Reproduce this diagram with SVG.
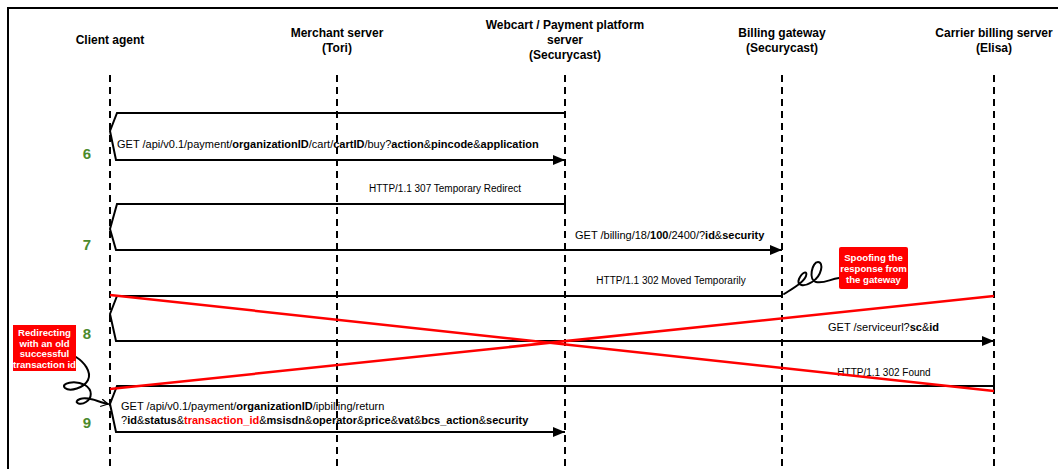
<svg xmlns="http://www.w3.org/2000/svg" width="1058" height="469" viewBox="0 0 1058 469">
  <style>
    .hdr { font-family: "Liberation Sans", Arial, sans-serif; font-size: 12px; font-weight: bold; fill: #000; text-anchor: middle; }
    .msg { font-family: "Liberation Sans", Arial, sans-serif; font-size: 11px; fill: #000; }
    .rsp { font-family: "Liberation Sans", Arial, sans-serif; font-size: 10px; fill: #000; text-anchor: middle; }
    .b { font-weight: bold; }
    .red { fill: #ff0000; }
    .step { font-family: "Liberation Sans", Arial, sans-serif; font-size: 15px; font-weight: bold; fill: #4b8a2c; text-anchor: middle; }
    .life { stroke: #000; stroke-width: 2; stroke-dasharray: 7 5; fill: none; }
    .line { stroke: #000; stroke-width: 2; fill: none; }
    .cross { stroke: #ff0000; stroke-width: 2.5; fill: none; }
    .note { fill: #ff0000; }
    .notetxt { font-family: "Liberation Sans", Arial, sans-serif; font-size: 9.6px; font-weight: bold; fill: #fff; text-anchor: middle; }
    .curl { stroke: #000; stroke-width: 2; fill: none; stroke-linecap: round; }
  </style>
  <defs>
    <marker id="arrow" viewBox="0 0 12 10" refX="12" refY="5" markerWidth="13" markerHeight="10" markerUnits="userSpaceOnUse" orient="auto">
      <path d="M0,0 L12,5 L0,10 Z" fill="#000"/>
    </marker>
    <marker id="arrowSmall" viewBox="0 0 10 10" refX="9" refY="5" markerWidth="8" markerHeight="8" markerUnits="userSpaceOnUse" orient="auto">
      <path d="M0,0 L9,5 L0,10" fill="none" stroke="#000" stroke-width="1.6"/>
    </marker>
  </defs>

  <rect x="8" y="8" width="1060" height="470" fill="#fff" stroke="#000" stroke-width="2"/>

  <!-- participants -->
  <g id="client-agent">
    <text class="hdr" x="110" y="44">Client agent</text>
  </g>
  <g id="merchant-server">
    <text class="hdr" x="337" y="37">Merchant server</text>
    <text class="hdr" x="337" y="52">(Tori)</text>
  </g>
  <g id="webcart-server">
    <text class="hdr" x="565" y="29">Webcart / Payment platform</text>
    <text class="hdr" x="565" y="44">server</text>
    <text class="hdr" x="565" y="59">(Securycast)</text>
  </g>
  <g id="billing-gateway">
    <text class="hdr" x="782" y="37">Billing gateway</text>
    <text class="hdr" x="782" y="52">(Securycast)</text>
  </g>
  <g id="carrier-billing">
    <text class="hdr" x="994" y="37">Carrier billing server</text>
    <text class="hdr" x="994" y="52">(Elisa)</text>
  </g>

  <!-- lifelines -->
  <g id="lifelines">
    <line class="life" x1="110" y1="75" x2="110" y2="466"/>
    <line class="life" x1="337" y1="75" x2="337" y2="466"/>
    <line class="life" x1="565" y1="75" x2="565" y2="466"/>
    <line class="life" x1="782" y1="75" x2="782" y2="466"/>
    <line class="life" x1="994" y1="75" x2="994" y2="466"/>
  </g>

  <!-- step numbers -->
  <g id="steps">
    <text class="step" x="87" y="159">6</text>
    <text class="step" x="87" y="250">7</text>
    <text class="step" x="87" y="339">8</text>
    <text class="step" x="87" y="428">9</text>
  </g>

  <!-- messages -->
  <g id="connectors">
    <!-- 6 -->
    <path class="line" d="M565,113 H117 L110,131 L116,160 H565" marker-end="url(#arrow)"/>
    <text class="msg" x="117" y="148">GET /api/v0.1/payment/<tspan class="b">organizationID</tspan>/cart/<tspan class="b">cartID</tspan>/buy?<tspan class="b">action</tspan>&amp;<tspan class="b">pincode</tspan>&amp;<tspan class="b">application</tspan></text>

    <!-- 7 -->
    <text class="rsp" x="445" y="192">HTTP/1.1 307 Temporary Redirect</text>
    <path class="line" d="M565,204 H117 L110,229 L116,250 H782" marker-end="url(#arrow)"/>
    <line class="line" x1="565" y1="199" x2="565" y2="209"/>
    <text class="msg" x="575" y="239">GET /billing/18/<tspan class="b">100</tspan>/2400/?<tspan class="b">id</tspan>&amp;<tspan class="b">security</tspan></text>

    <!-- 8 -->
    <text class="rsp" x="671" y="284">HTTP/1.1 302 Moved Temporarily</text>
    <path class="line" d="M782,296 H117 L110,314 L116,341 H994" marker-end="url(#arrow)"/>
    <text class="msg" x="828" y="331">GET /serviceurl?<tspan class="b">sc</tspan>&amp;<tspan class="b">id</tspan></text>

    <!-- 9 -->
    <text class="rsp" x="884" y="376">HTTP/1.1 302 Found</text>
    <path class="line" d="M994,386 H117 L110,404 L116,432 H565" marker-end="url(#arrow)"/>
    <line class="line" x1="994" y1="381" x2="994" y2="391"/>
    <text class="msg" x="121" y="410">GET /api/v0.1/payment/<tspan class="b">organizationID</tspan>/ipbilling/return</text>
    <text class="msg" x="121" y="424">?<tspan class="b">id</tspan>&amp;<tspan class="b">status</tspan>&amp;<tspan class="b red">transaction_id</tspan>&amp;<tspan class="b">msisdn</tspan>&amp;<tspan class="b">operator</tspan>&amp;<tspan class="b">price</tspan>&amp;<tspan class="b">vat</tspan>&amp;<tspan class="b">bcs_action</tspan>&amp;<tspan class="b">security</tspan></text>

    <!-- crossed-out exchange -->
    <line class="cross" x1="110" y1="295" x2="994" y2="391"/>
    <line class="cross" x1="110" y1="389" x2="994" y2="296"/>

    <!-- annotation curls -->
    <path class="curl" d="M839,278 C830,279 824,284 816,282 C808,280 812,262 818,262 C824,262 822,276 812,282 C804,287 796,286 799,279 C802,272 808,270 806,276 C804,283 790,290 784,294"/>
    <path class="curl" d="M76,357 C84,362 92,372 88,380 C84,388 70,392 65,388 C60,383 75,380 85,385 C93,390 92,398 86,402 C80,406 72,402 80,399 C88,396 98,402 108,404" marker-end="url(#arrowSmall)"/>
  </g>

  <!-- callouts -->
  <g id="note-spoofing">
    <rect class="note" x="839" y="247" width="69" height="42" rx="2"/>
    <text class="notetxt" x="873.5" y="261">Spoofing the</text>
    <text class="notetxt" x="873.5" y="272">response from</text>
    <text class="notetxt" x="873.5" y="283">the gateway</text>
  </g>
  <g id="note-redirecting">
    <rect class="note" x="13" y="325" width="63" height="46"/>
    <text class="notetxt" x="44.5" y="336">Redirecting</text>
    <text class="notetxt" x="44.5" y="346.5">with an old</text>
    <text class="notetxt" x="44.5" y="357">successful</text>
    <text class="notetxt" x="44.5" y="367.5">transaction id</text>
  </g>
</svg>
